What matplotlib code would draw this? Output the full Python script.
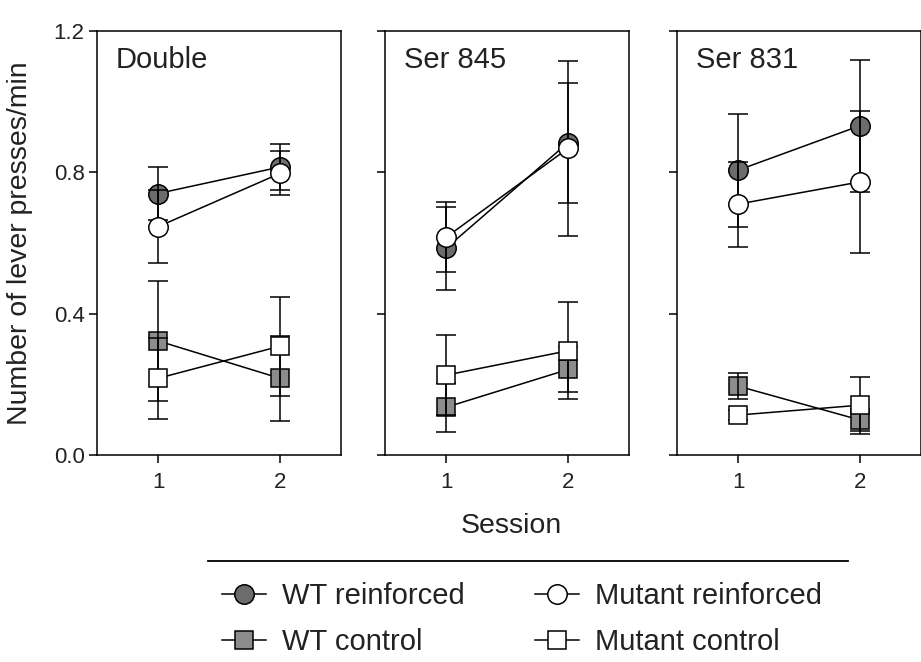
import matplotlib
matplotlib.use('Agg')
import matplotlib.pyplot as plt
from matplotlib.lines import Line2D

plt.rcParams['font.family'] = ['Liberation Sans', 'DejaVu Sans']

# data (mean +/- error), one entry per panel
panels = ['Double', 'Ser 845', 'Ser 831']
sessions = [1, 2]

wt_reinf = [[0.740, 0.815], [0.585, 0.884], [0.806, 0.932]]
wt_reinf_err = [[0.076, 0.065], [0.118, 0.170], [0.160, 0.187]]
mut_reinf = [[0.646, 0.797], [0.616, 0.868], [0.710, 0.773]]
mut_reinf_err = [[0.104, 0.062], [0.099, 0.248], [0.120, 0.200]]
wt_ctrl = [[0.323, 0.217], [0.135, 0.242], [0.195, 0.099]]
wt_ctrl_err = [[0.170, 0.120], [0.069, 0.063], [0.036, 0.030]]
mut_ctrl = [[0.217, 0.308], [0.226, 0.295], [0.113, 0.141]]
mut_ctrl_err = [[0.114, 0.140], [0.113, 0.137], [0.015, 0.081]]

y_ticks = [0.0, 0.4, 0.8, 1.2]

CIRCLE_FILL = '#6c6c6c'
SQUARE_FILL = '#8c8c8c'
LW = 1.1
TXT = '#222222'

W, H = 921, 662
fig = plt.figure(figsize=(W / 100, H / 100), dpi=100)

lefts = [97, 385, 677]
series = [
    # values, errors, marker, fill, label, bars above
    (wt_ctrl, wt_ctrl_err, 's', SQUARE_FILL, 'WT control', True),
    (mut_ctrl, mut_ctrl_err, 's', 'white', 'Mutant control', False),
    (wt_reinf, wt_reinf_err, 'o', CIRCLE_FILL, 'WT reinforced', True),
    (mut_reinf, mut_reinf_err, 'o', 'white', 'Mutant reinforced', False),
]

handles = {}
for i, (name, left) in enumerate(zip(panels, lefts)):
    ax = fig.add_axes([left / W, 207 / H, 244 / W, 424 / H])
    for vals, errs, mk, fc, lab, above in series:
        ms = 14 if mk == 'o' else 13.5
        ax.errorbar(sessions, vals[i], yerr=errs[i], color='black',
                    lw=LW, marker=mk, ms=ms, mfc=fc, mec='black', mew=LW,
                    capsize=7, capthick=LW, elinewidth=LW, barsabove=above)
        handles[lab] = Line2D([], [], color='black', lw=LW, marker=mk,
                              ms=ms, mfc=fc, mec='black', mew=LW)
    ax.set_xlim(0.5, 2.5)
    ax.set_ylim(0, 1.2)
    ax.set_xticks(sessions)
    ax.set_yticks(y_ticks)
    if i == 0:
        ax.set_yticklabels([f'{t:.1f}' for t in y_ticks])
    else:
        ax.set_yticklabels([])
    ax.tick_params(direction='out', length=6, width=LW, labelsize=16,
                   color='black', labelcolor=TXT)
    ax.tick_params(axis='x', pad=6)
    ax.tick_params(axis='y', pad=3)
    for s in ax.spines.values():
        s.set_linewidth(LW)
    ax.text(0.078, 0.913, name, transform=ax.transAxes, fontsize=21,
            ha='left', va='baseline', color=TXT)

fig.text(20 / W, 1 - 243 / H, 'Number of lever presses/min', rotation=90,
         ha='center', va='center', fontsize=20.5, color=TXT)
fig.text(511 / W, 1 - 533 / H, 'Session', ha='center', va='baseline',
         fontsize=20.5, color=TXT)

# separator above the legend
fig.add_artist(Line2D([208 / W, 848 / W], [1 - 561 / H, 1 - 561 / H],
                      transform=fig.transFigure, color='black', lw=1.3))

order = ['WT reinforced', 'WT control', 'Mutant reinforced', 'Mutant control']
leg = fig.legend([handles[k] for k in order], order, ncol=2, frameon=False,
                 loc='center', bbox_to_anchor=(522 / W, 1 - 619 / H),
                 fontsize=21, handlelength=1.5, handletextpad=0.55,
                 columnspacing=2.4, labelspacing=0.62, borderpad=0.2)
for t in leg.get_texts():
    t.set_color(TXT)

fig.savefig('out.png', dpi=100)
